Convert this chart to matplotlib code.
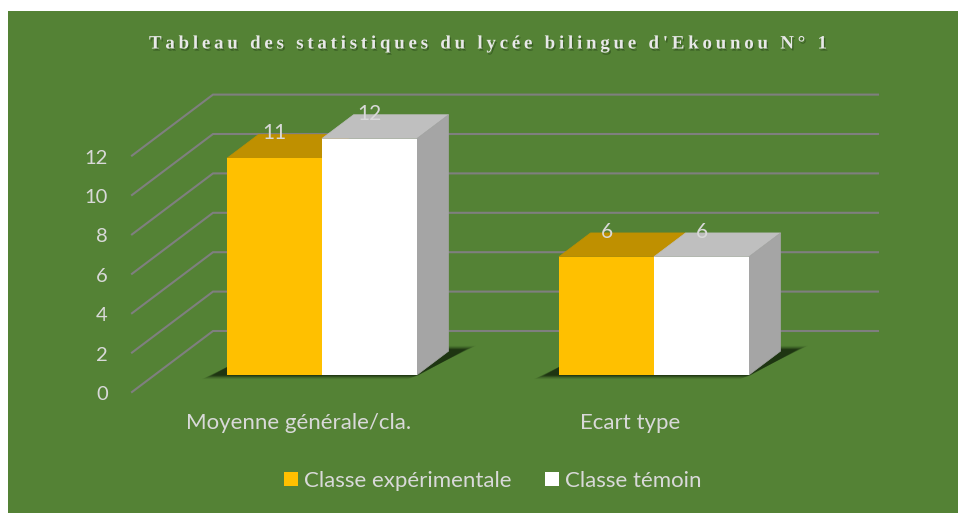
import numpy as np
import matplotlib
matplotlib.use('Agg')
import matplotlib.pyplot as plt
import matplotlib.patheffects as pe
from matplotlib.patches import Rectangle

# Data
categories = ['Moyenne générale/cla.', 'Ecart type']
series_names = ['Classe expérimentale', 'Classe témoin']
exp_values = [11, 6]
tem_values = [12, 6]
y_ticks = [0, 2, 4, 6, 8, 10, 12]
title = "Tableau des statistiques du lycée bilingue d'Ekounou N° 1"

# Colours
green = '#548235'
front_colors = ['#FFC000', '#FFFFFF']
top_colors = ['#BF9000', '#BFBFBF']
side_color = '#A5A5A5'
grid_color = '#7F7F7F'
text_color = '#D9D9D9'

# Scale of the data space: 332 px per category, 19.7 px per y unit
W, H = 960, 513
PX_X, PX_Y = 332.0, 19.7
X0, Y0 = 299.3, 392.0

# Oblique projection: depth 0 = front of the floor, depth 1 = back wall
DX, DY = 81 / PX_X, 61 / PX_Y
BAR_D0, BAR_D1 = 0.28, 0.67
BAR_W = 95 / PX_X


def proj(x, v, d):
    return x + d * DX, v + d * DY


fig = plt.figure(figsize=(W / 100, H / 100), dpi=100, facecolor='white')
ax = fig.add_axes([0, 0, 1, 1])
ax.set_xlim(-X0 / PX_X, (W - X0) / PX_X)
ax.set_ylim((Y0 - H) / PX_Y, Y0 / PX_Y)
ax.axis('off')

# Green panel
fig.patches.append(Rectangle((8 / W, 0), 950 / W, 502 / H, transform=fig.transFigure,
                             facecolor=green, edgecolor='none', zorder=-5))

# Gridlines on the side wall and back wall
x_left = (132 - X0) / PX_X
x_right = (878 - X0) / PX_X - DX
for t in y_ticks:
    xa, ya = proj(x_left, t, 0)
    xb, yb = proj(x_left, t, 1)
    xc, yc = proj(x_right, t, 1)
    ax.plot([xa, xb, xc], [ya, yb, yc], color=grid_color, lw=1.5, zorder=1,
            solid_joinstyle='miter')
    ax.text(xa - 24 / PX_X, t - 2.5 / PX_Y, str(t), ha='right', va='center', color=text_color,
            fontsize=14.5, family='Lato')

# Bars
all_values = [exp_values, tem_values]
for g in range(len(categories)):
    left = g - BAR_W
    right = g + BAR_W
    # soft floor shadow, stacked translucent layers
    for k, alpha in zip([9, 7, 5, 3, 1, -1], [0.08, 0.12, 0.16, 0.22, 0.3, 0.4]):
        e = k / PX_X
        ev = k * 0.35 / PX_Y
        sx = [left - 16 / PX_X - e, right - e, right + 50 / PX_X + e, left + 34 / PX_X + e]
        sv0 = proj(0, 0, BAR_D0)[1]
        sv = [sv0 - ev - 1 / PX_Y, sv0 - ev - 1 / PX_Y, sv0 + 26 / PX_Y + ev, sv0 + 26 / PX_Y + ev]
        xs = [s + BAR_D0 * DX for s in sx]
        ax.fill(xs, sv, color='#10200a', alpha=alpha, lw=0, zorder=2)

    for s, values in enumerate(all_values):
        v = values[g]
        xl = left + s * BAR_W
        xr = xl + BAR_W
        # top face
        pts = [proj(xl, v, BAR_D0), proj(xr, v, BAR_D0), proj(xr, v, BAR_D1), proj(xl, v, BAR_D1)]
        ax.fill(*zip(*pts), facecolor=top_colors[s], edgecolor=top_colors[s], lw=0.5, zorder=3)
    # side face of the last bar
    v = all_values[-1][g]
    pts = [proj(right, 0, BAR_D0), proj(right, v, BAR_D0), proj(right, v, BAR_D1), proj(right, 0, BAR_D1)]
    ax.fill(*zip(*pts), facecolor=side_color, edgecolor=side_color, lw=0.5, zorder=3)

front_off_x, front_off_v = proj(0, 0, BAR_D0)
for s, values in enumerate(all_values):
    xpos = np.arange(len(categories)) + (s - 0.5) * BAR_W + front_off_x
    ax.bar(xpos, values, width=BAR_W, bottom=front_off_v, color=front_colors[s], zorder=4,
           label=series_names[s])
    for xp, v in zip(xpos, values):
        ax.text(xp, v + front_off_v + 25 / PX_Y, str(v), ha='center', va='center',
                color=text_color, fontsize=15, family='Lato', zorder=6)

# Category labels
for g, name in enumerate(categories):
    ax.text(g - 1 / PX_X, (Y0 - 423) / PX_Y, name, ha='center', va='center',
            color=text_color, fontsize=16, family='Lato')

# Legend
leg = ax.legend(loc='center', bbox_to_anchor=(492.5 / W, 1 - 481 / H), bbox_transform=fig.transFigure,
                ncol=2, frameon=False, prop={'family': 'Lato', 'size': 16},
                handlelength=0.63, handleheight=0.63, handletextpad=0.27, columnspacing=1.53)
for t in leg.get_texts():
    t.set_color(text_color)

# Title: letter-spaced with thin spaces
spaced = '\u2009'.join(title)
ax.text(487.5 / W, 1 - 44 / H, spaced, transform=fig.transFigure, ha='center', va='center',
        color='#E8E8E8', fontsize=13.6, fontweight='bold',
        family=['Liberation Serif', 'DejaVu Serif'],
        path_effects=[pe.withSimplePatchShadow(offset=(1, -1.5), shadow_rgbFace='#2a4a1a', alpha=0.6)])

fig.savefig('out.png', dpi=100)
